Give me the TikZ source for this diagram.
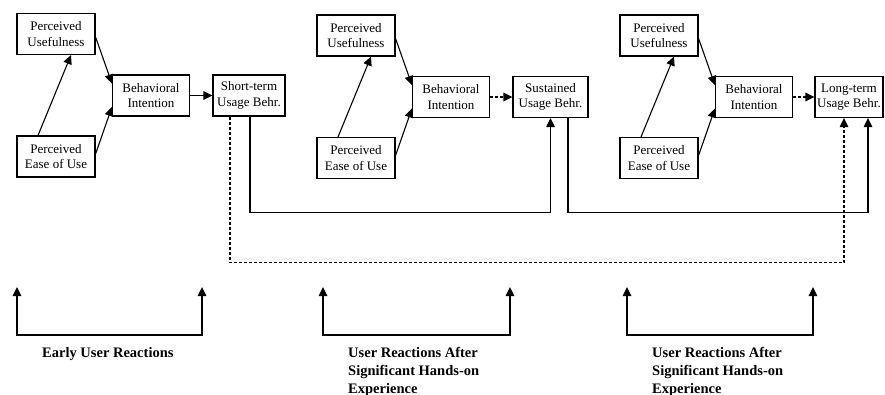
\documentclass[tikz,border=0pt]{standalone}
\usepackage{fontspec}
\setmainfont{Liberation Serif}
\usetikzlibrary{arrows,arrows.meta}
\usetikzlibrary{calc}
\tikzset{>={Triangle[length=9pt,width=8.5pt]}}
\tikzstyle{box} = [draw, line width=1.1, align=center, inner sep=0pt,
                   minimum height=41, font=\fontsize{13}{15.5}\selectfont]
\tikzstyle{link} = [->, line width=1.1]
\tikzstyle{later} = [link, dash pattern=on 3pt off 2pt]
\tikzstyle{stage} = [anchor=north west, align=left, inner sep=0pt,
                     font=\fontsize{14.5}{18}\selectfont\bfseries]

\begin{document}
\begin{tikzpicture}[x=1pt,y=-1pt]
  \useasboundingbox (0,0) rectangle (885,395);
  \def\Yb{212} % solid feedback level
  \def\Yr{287} % tip of the stage arrows

  % MODEL BLOCKS
  \foreach \i/\dx/\dy/\bw/\ux/\usage in {%
      1/0/0/72/249/{Short-term\\Usage Behr.},
      2/300/1.5/75/550.5/{Sustained\\Usage Behr.},
      3/603/1.5/68/849/{Long-term\\Usage Behr.}}{
    \node[box, minimum width=78] (PU\i)  at (56+\dx,34+\dy)    {Perceived\\Usefulness};
    \node[box, minimum width=78] (PEU\i) at (56+\dx,156.5+\dy) {Perceived\\Ease of Use};
    \node[box, minimum width=77] (BI\i)  at (151+\dx,95.5+\dy) {Behavioral\\Intention};
    \node[box, minimum width=\bw] (UB\i) at (\ux,95.5+\dy)     {\usage};
    \draw[link] ($(PEU\i.north)+(-18,0)$) -- ($(PU\i.south)+(15,0)$);
    \draw[link] ($(PU\i.east)+(0,3)$) -- ($(BI\i.west)+(0,-12)$);
    \draw[link] ($(PEU\i.east)+(0,-2.5)$) -- ($(BI\i.west)+(0,11.5)$);
  }
  \draw[link]  (BI1) -- (UB1);
  \draw[later] (BI2) -- (UB2);
  \draw[later] (BI3) -- (UB3);

  % FEEDBACK
  \draw[link] ($(UB1.south)+(1,0)$) -- ++(0,\Yb-116) -| (UB2.south);
  \draw[link] ($(UB2.south)+(17.5,0)$) -- ++(0,\Yb-117.5) -| ($(UB3.south)+(19,0)$);
  \draw[later] ($(UB1.south)+(-19,0)$) -- ++(0,146) -| ($(UB3.south)+(-5,0)$);

  % STAGES
  \foreach \i/\xa/\xb in {1/17/202, 2/323/510, 3/627/813}{
    \coordinate (SL\i) at (\xa,\Yr);
    \coordinate (SR\i) at (\xb,\Yr);
    \draw[<->, line width=1.1] (SL\i) -- ++(0,48) -| (SR\i);
  }
  \node[stage] (early) at (42,347) {Early User Reactions};
  \node[stage] (after1) at (348,347) {User Reactions After\\Significant Hands-on\\Experience};
  \node[stage] (after2) at (652,347) {User Reactions After\\Significant Hands-on\\Experience};
\end{tikzpicture}
\end{document}
